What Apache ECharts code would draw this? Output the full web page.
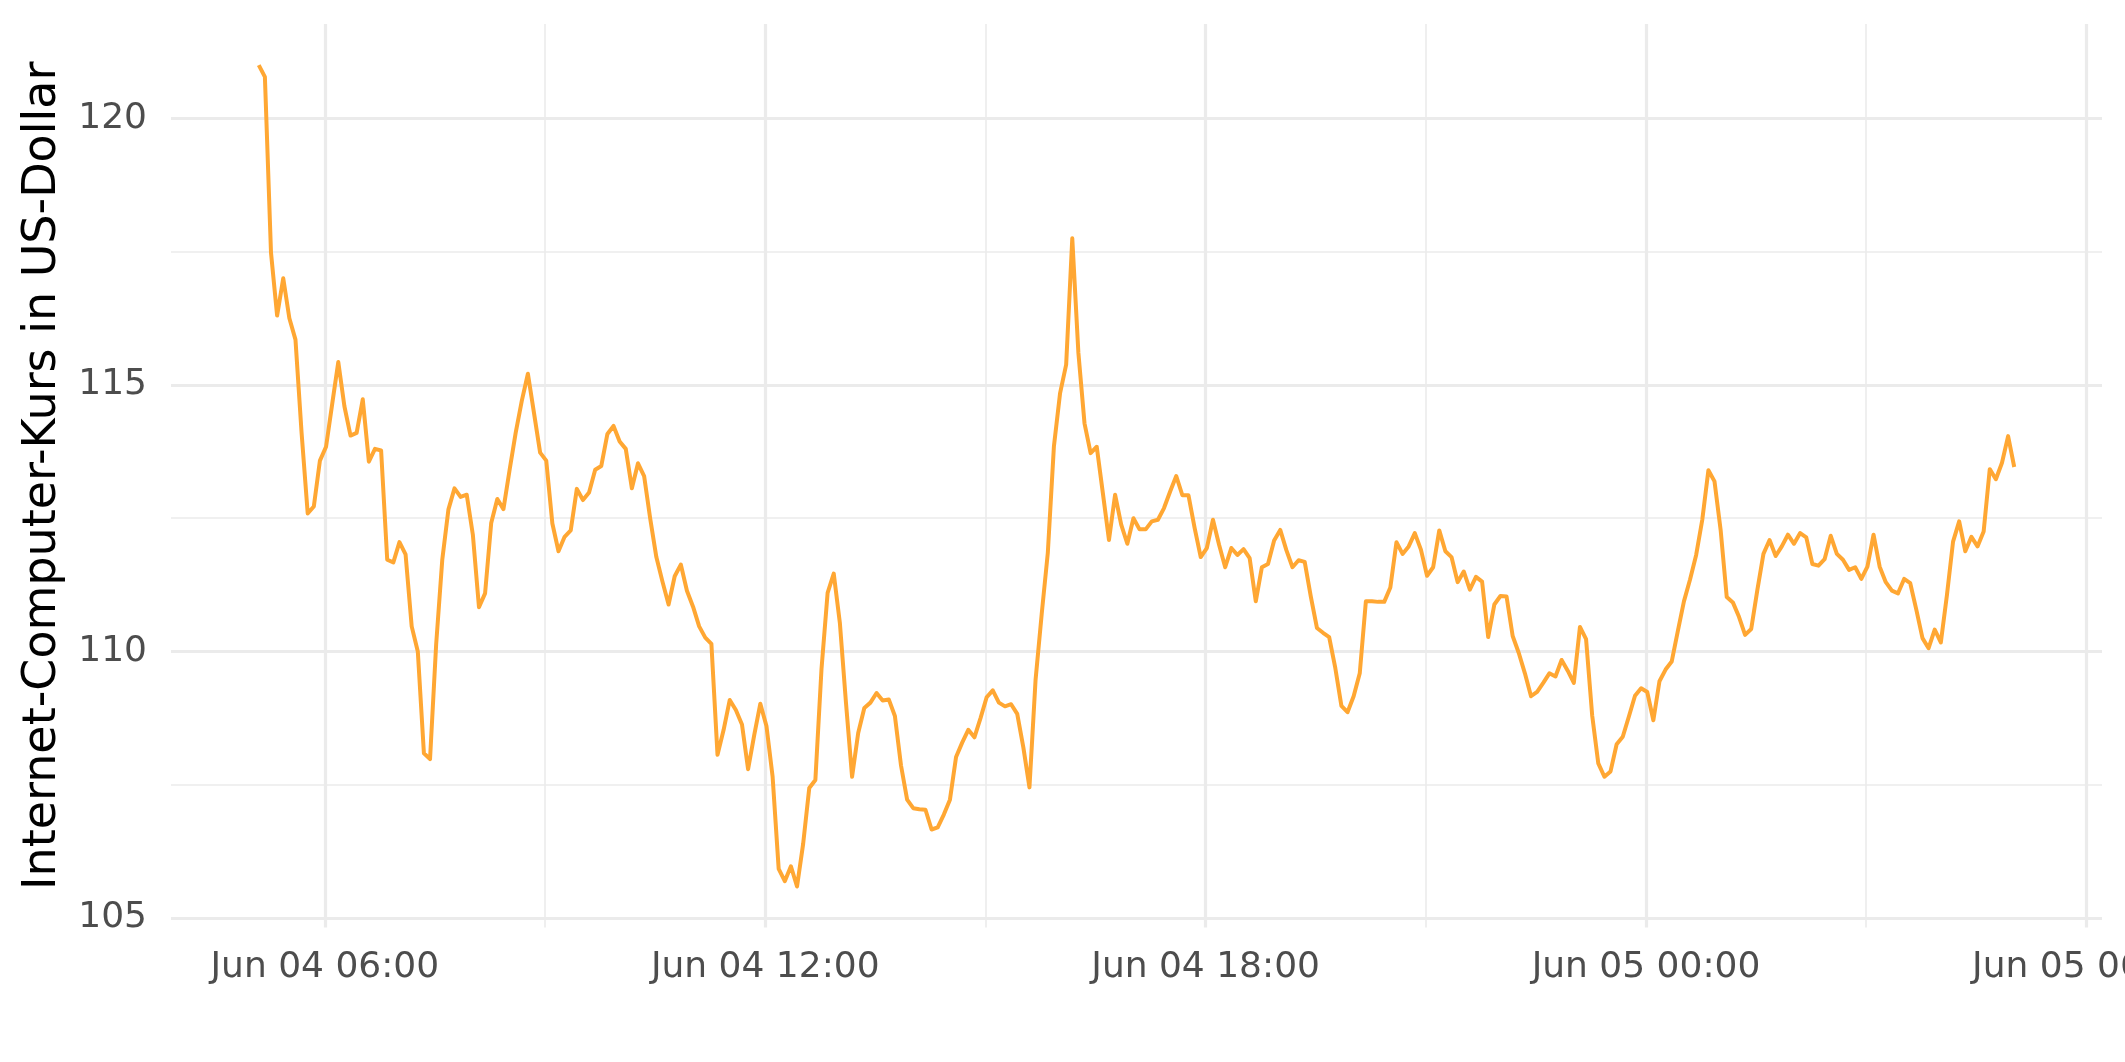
<!DOCTYPE html>
<html><head><meta charset="utf-8">
<script src="https://cdn.jsdelivr.net/npm/echarts@6/dist/echarts.min.js"></script>
<style>html,body{margin:0;padding:0;background:#fff}#c{width:2125px;height:1062px}</style>
</head><body><div id="c"></div>
<script>
// ---- data ----
const startTime = '2021-06-04T05:06:00Z';   // first sample (UTC)
const stepMinutes = 5;                       // sampling step
const prices = [
121.00,120.78,117.48,116.30,117.00,116.25,115.85,114.10,112.59,112.72,
113.58,113.84,114.64,115.43,114.60,114.05,114.10,114.73,113.56,113.80,
113.77,111.72,111.67,112.05,111.82,110.47,110.00,108.09,107.98,110.13,
111.72,112.66,113.06,112.90,112.94,112.19,110.83,111.09,112.41,112.86,
112.67,113.40,114.10,114.70,115.21,114.47,113.73,113.58,112.40,111.88,
112.15,112.27,113.05,112.84,112.98,113.41,113.48,114.08,114.23,113.94,
113.80,113.06,113.53,113.29,112.49,111.77,111.31,110.88,111.41,111.63,
111.14,110.84,110.47,110.26,110.14,108.06,108.53,109.09,108.90,108.63,
107.79,108.43,109.02,108.60,107.66,105.92,105.69,105.97,105.59,106.39,
107.44,107.59,109.67,111.10,111.46,110.54,109.04,107.65,108.47,108.94,
109.04,109.22,109.08,109.10,108.79,107.86,107.22,107.06,107.04,107.03,
106.66,106.70,106.94,107.22,108.02,108.29,108.53,108.39,108.75,109.14,
109.27,109.04,108.97,109.01,108.83,108.20,107.45,109.47,110.70,111.85,
113.85,114.84,115.38,117.75,115.60,114.28,113.72,113.84,112.97,112.09,
112.94,112.38,112.02,112.50,112.29,112.29,112.44,112.47,112.69,113.00,
113.29,112.93,112.93,112.32,111.77,111.94,112.47,112.00,111.58,111.94,
111.81,111.92,111.75,110.94,111.58,111.64,112.08,112.28,111.90,111.58,
111.71,111.68,111.03,110.44,110.35,110.27,109.69,108.98,108.86,109.16,
109.59,110.94,110.94,110.93,110.93,111.20,112.05,111.83,111.97,112.22,
111.91,111.42,111.58,112.27,111.88,111.77,111.30,111.50,111.16,111.40,
111.31,110.27,110.88,111.04,111.03,110.29,109.97,109.59,109.16,109.24,
109.41,109.59,109.53,109.84,109.64,109.41,110.46,110.23,108.80,107.90,
107.65,107.75,108.26,108.40,108.78,109.17,109.31,109.24,108.71,109.44,
109.66,109.81,110.38,110.94,111.35,111.81,112.47,113.40,113.19,112.28,
111.02,110.92,110.65,110.31,110.42,111.15,111.83,112.09,111.79,111.97,
112.19,112.02,112.22,112.14,111.64,111.61,111.73,112.17,111.83,111.72,
111.53,111.58,111.36,111.59,112.19,111.59,111.30,111.14,111.09,111.36,
111.28,110.78,110.25,110.06,110.41,110.17,111.06,112.06,112.44,111.88,
112.15,111.97,112.25,113.42,113.23,113.54,114.04,113.46
];
const xMajorTicks = ['2021-06-04T06:00:00Z','2021-06-04T12:00:00Z','2021-06-04T18:00:00Z','2021-06-05T00:00:00Z','2021-06-05T06:00:00Z'];
const xTickLabels = ['Jun 04 06:00','Jun 04 12:00','Jun 04 18:00','Jun 05 00:00','Jun 05 06:00'];
const xMinorTicks = ['2021-06-04T09:00:00Z','2021-06-04T15:00:00Z','2021-06-04T21:00:00Z','2021-06-05T03:00:00Z'];
const yMajorTicks = [105, 110, 115, 120];
const yMinorTicks = [107.5, 112.5, 117.5];
const yTitle = 'Internet-Computer-Kurs in US-Dollar';

// ---- build ----
const t0 = Date.parse(startTime);
const stepMs = stepMinutes * 60000;
const seriesData = prices.map((v, i) => [t0 + i * stepMs, v]);
const tFirst = seriesData[0][0], tLast = seriesData[seriesData.length - 1][0];
const xPad = (tLast - tFirst) * 0.05;
const vMin = Math.min(...prices), vMax = Math.max(...prices);
const yPad = (vMax - vMin) * 0.05;
const majorMs = xMajorTicks.map(Date.parse);
const minorMs = xMinorTicks.map(Date.parse);
const FONT = 'DejaVu Sans';
const GRID = '#EBEBEB';

const chart = echarts.init(document.getElementById('c'), null, {renderer: 'canvas'});
chart.setOption({
  animation: false,
  backgroundColor: '#ffffff',
  grid: {left: 171, right: 23, top: 24, bottom: 134.4, containLabel: false, outerBoundsMode: 'none'},
  xAxis: [
    {type: 'value', min: tFirst - xPad, max: tLast + xPad, position: 'bottom',
     axisLine: {show: false}, axisTick: {show: false, customValues: majorMs},
     axisLabel: {customValues: majorMs, margin: 22, fontSize: 36, color: '#4D4D4D', fontFamily: FONT,
       hideOverlap: false,
       formatter: v => { const i = majorMs.indexOf(v); return i >= 0 ? xTickLabels[i] : ''; }},
     splitLine: {show: true, lineStyle: {color: GRID, width: 3.2}}},
    {type: 'value', min: tFirst - xPad, max: tLast + xPad, position: 'bottom',
     axisLine: {show: false}, axisTick: {show: false, customValues: minorMs},
     axisLabel: {show: false, customValues: minorMs},
     splitLine: {show: true, lineStyle: {color: GRID, width: 1.6}}}
  ],
  yAxis: [
    {type: 'value', min: vMin - yPad, max: vMax + yPad,
     axisLine: {show: false}, axisTick: {show: false, customValues: yMajorTicks},
     axisLabel: {customValues: yMajorTicks, margin: 24, fontSize: 36, color: '#4D4D4D', fontFamily: FONT,
       formatter: v => String(v)},
     splitLine: {show: true, lineStyle: {color: GRID, width: 3.2}},
     name: yTitle, nameLocation: 'middle', nameGap: 105,
     nameTextStyle: {fontSize: 46, color: '#000000', fontFamily: FONT}},
    {type: 'value', min: vMin - yPad, max: vMax + yPad,
     axisLine: {show: false}, axisTick: {show: false, customValues: yMinorTicks},
     axisLabel: {show: false, customValues: yMinorTicks},
     splitLine: {show: true, lineStyle: {color: GRID, width: 1.6}}}
  ],
  series: [{
    type: 'line', xAxisIndex: 0, yAxisIndex: 0, data: seriesData,
    showSymbol: false, smooth: false, clip: false,
    lineStyle: {color: '#FFA733', width: 4, join: 'round'},
    z: 5
  }]
});
</script></body></html>
